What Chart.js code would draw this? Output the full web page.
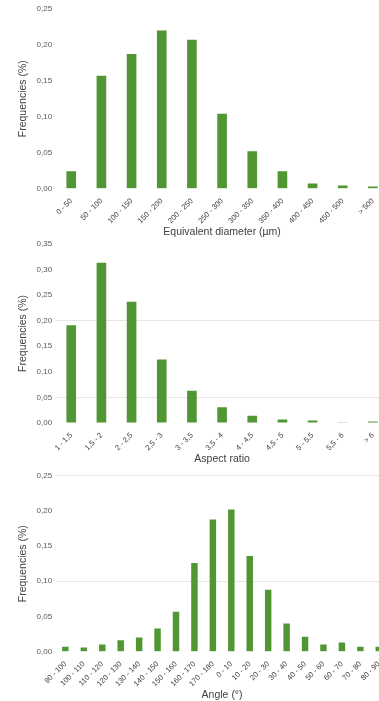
<!DOCTYPE html>
<html>
<head>
<meta charset="utf-8">
<script src="https://cdn.jsdelivr.net/npm/chart.js@4.4.0/dist/chart.umd.min.js"></script>
<style>
  html, body { margin: 0; padding: 0; background: #fff; overflow: hidden; }
  .panel { position: absolute; left: 0; width: 392px; }
  #p1 { top: 0; height: 238px; }
  #p2 { top: 235px; height: 230px; }
  #p3 { top: 467px; height: 234px; }
</style>
</head>
<body>
<div class="panel" id="p1"><canvas id="c1"></canvas></div>
<div class="panel" id="p2"><canvas id="c2"></canvas></div>
<div class="panel" id="p3"><canvas id="c3"></canvas></div>
<script>
(function() {
  'use strict';

  // ── Data ──
  var diameterLabels = ['0 - 50','50 - 100','100 - 150','150 - 200','200 - 250','250 - 300','300 - 350','350 - 400','400 - 450','450 - 500','> 500'];
  var diameterValues = [0.024, 0.157, 0.187, 0.220, 0.207, 0.104, 0.052, 0.024, 0.007, 0.0045, 0.003];

  var aspectLabels = ['1 - 1,5','1,5 - 2','2 - 2,5','2,5 - 3','3 - 3,5','3,5 - 4','4 - 4,5','4,5 - 5','5 - 5,5','5,5 - 6','> 6'];
  var aspectValues = [0.191, 0.313, 0.237, 0.124, 0.063, 0.031, 0.014, 0.0066, 0.0047, 0.0015, 0.003];

  var angleLabels = ['90 - 100','100 - 110','110 - 120','120 - 130','130 - 140','140 - 150','150 - 160','160 - 170','170 - 180','0 - 10','10 - 20','20 - 30','30 - 40','40 - 50','50 - 60','60 - 70','70 - 80','80 - 90'];
  var angleValues = [0.007, 0.0057, 0.010, 0.016, 0.020, 0.033, 0.0566, 0.126, 0.188, 0.202, 0.136, 0.088, 0.040, 0.021, 0.010, 0.013, 0.007, 0.007];

  var GREEN = '#509632';
  var FONT = "'Liberation Sans', Arial, sans-serif";

  function $(id) { return document.getElementById(id); }

  function comma(v) { return v.toFixed(2).replace('.', ','); }

  // ── Chart builder ──
  function makeChart(id, labels, values, opts) {
    return new Chart($(id), {
      type: 'bar',
      data: {
        labels: labels,
        datasets: [{
          data: values,
          backgroundColor: GREEN,
          borderWidth: 0,
          barPercentage: opts.barPct,
          categoryPercentage: 1
        }]
      },
      options: {
        responsive: true,
        maintainAspectRatio: false,
        animation: false,
        layout: { padding: opts.padding },
        plugins: { legend: { display: false }, tooltip: { enabled: false } },
        scales: {
          x: {
            grid: { display: false },
            border: { display: false },
            ticks: {
              color: '#404040',
              font: { family: FONT, size: 7.5 },
              maxRotation: 45, minRotation: 45,
              autoSkip: false,
              padding: 0
            },
            title: {
              display: true,
              text: opts.xTitle,
              color: '#404040',
              font: { family: FONT, size: 10.5 },
              padding: { top: 0, bottom: 0 }
            }
          },
          y: {
            min: 0,
            max: opts.max,
            border: { display: false },
            grid: {
              drawTicks: false,
              lineWidth: 1,
              // only a couple of faint guide lines per panel
              color: function(ctx) {
                var v = Math.round(ctx.tick.value * 100) / 100;
                return opts.gridAt.indexOf(v) > -1 ? '#e6e6e6' : 'rgba(0,0,0,0)';
              }
            },
            ticks: {
              stepSize: 0.05,
              color: '#595959',
              font: { family: FONT, size: 8 },
              padding: 4,
              callback: function(v) { return comma(v); }
            },
            title: {
              display: true,
              text: 'Frequencies (%)',
              color: '#404040',
              font: { family: FONT, size: 10.5 },
              padding: { top: 0, bottom: 3 }
            }
          }
        }
      }
    });
  }

  makeChart('c1', diameterLabels, diameterValues, {
    max: 0.25, barPct: 0.32, gridAt: [],
    xTitle: 'Equivalent diameter (\u00b5m)',
    padding: { left: 17, right: 4, top: 8, bottom: 0 }
  });

  makeChart('c2', aspectLabels, aspectValues, {
    max: 0.35, barPct: 0.32, gridAt: [0.2, 0.05],
    xTitle: 'Aspect ratio',
    padding: { left: 17, right: 4, top: 6, bottom: 0 }
  });

  makeChart('c3', angleLabels, angleValues, {
    max: 0.25, barPct: 0.35, gridAt: [0.25, 0.1],
    xTitle: 'Angle (\u00b0)',
    padding: { left: 17, right: 4, top: 6, bottom: 0 }
  });
})();
</script>
</body>
</html>
